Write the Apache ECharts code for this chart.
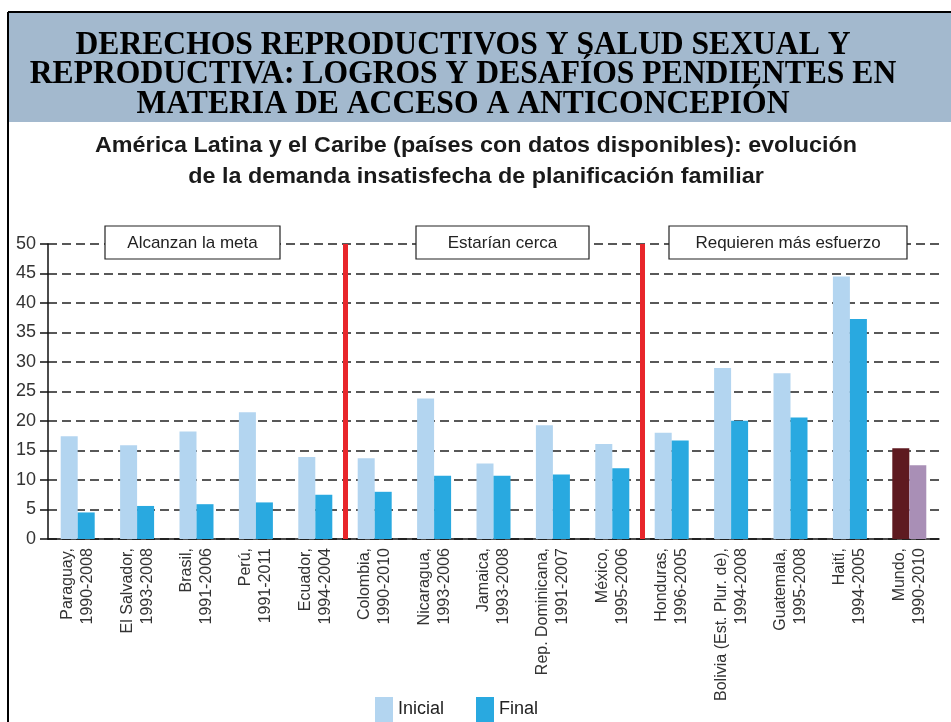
<!DOCTYPE html>
<html>
<head>
<meta charset="utf-8">
<script src="https://cdn.jsdelivr.net/npm/echarts@6/dist/echarts.min.js"></script>
<style>
  html, body { margin: 0; padding: 0; background: #fff; }
  #main { width: 951px; height: 722px; }
</style>
</head>
<body>
<div id="main"></div>
<script>
// datos (porcentaje de demanda insatisfecha)
var paises = [
	'Paraguay,\n1990-2008', 'El Salvador,\n1993-2008', 'Brasil,\n1991-2006', 'Perú,\n1991-2011', 'Ecuador,\n1994-2004',
	'Colombia,\n1990-2010', 'Nicaragua,\n1993-2006', 'Jamaica,\n1993-2008', 'Rep. Dominicana,\n1991-2007', 'México,\n1995-2006',
	'Honduras,\n1996-2005', 'Bolivia (Est. Plur. de),\n1994-2008', 'Guatemala,\n1995-2008', 'Haití,\n1994-2005', 'Mundo,\n1990-2010'
];
var inicial = [17.4, 15.9, 18.2, 21.5, 13.9, 13.7, 23.8, 12.8, 19.3, 16.1, 18.0, 29.0, 28.1, 44.5, 15.4];
var final_ = [4.5, 5.6, 5.9, 6.2, 7.5, 8.0, 10.7, 10.7, 10.95, 12.0, 16.7, 20.05, 20.6, 37.3, 12.5];
var yTicks = [0, 5, 10, 15, 20, 25, 30, 35, 40, 45, 50];
var cortes = [5, 10]; // separacion entre grupos
var grupos = ['Alcanzan la meta', 'Estarían cerca', 'Requieren más esfuerzo'];

var colInicial = '#b3d5f0', colFinal = '#29a9e0';
var colMundoIni = '#5e1a20', colMundoFin = '#a98fb6';

function serie(vals, col, colMundo) {
	return vals.map(function (v, i) {
		if (i == vals.length - 1) return { value: v, itemStyle: { color: colMundo } };
		return v;
	});
}

var myChart = echarts.init(document.getElementById('main'));

var titulo = ['DERECHOS REPRODUCTIVOS Y SALUD SEXUAL Y',
	'REPRODUCTIVA: LOGROS Y DESAFÍOS PENDIENTES EN',
	'MATERIA DE ACCESO A ANTICONCEPIÓN'];
var subtitulo = ['América Latina y el Caribe (países con datos disponibles): evolución',
	'de la demanda insatisfecha de planificación familiar'];

var graficos = [
	{ type: 'rect', shape: { x: 9, y: 13, width: 942, height: 109 }, style: { fill: '#a3b9ce' }, z: 1 },
	{ type: 'line', shape: { x1: 8, y1: 12, x2: 951, y2: 12 }, style: { stroke: '#000', lineWidth: 2 }, z: 2 },
	{ type: 'line', shape: { x1: 8, y1: 12, x2: 8, y2: 722 }, style: { stroke: '#000', lineWidth: 2 }, z: 2 }
];
titulo.forEach(function (t, i) {
	graficos.push({
		type: 'text', x: 463, y: 45 + i * 29.5, scaleX: 0.93, z: 3,
		style: { text: t, font: 'bold 34px "Liberation Serif", "Times New Roman", serif', fill: '#000',
			textAlign: 'center', textVerticalAlign: 'middle' }
	});
});
subtitulo.forEach(function (t, i) {
	graficos.push({
		type: 'text', x: 476, y: 146 + i * 31, scaleX: 1.06, z: 3,
		style: { text: t, font: 'bold 22px "Liberation Sans", Arial, sans-serif', fill: '#1a1a1a',
			textAlign: 'center', textVerticalAlign: 'middle' }
	});
});
// cajas de los grupos
var cajas = [[105, 175], [416, 173], [669, 238]];
grupos.forEach(function (g, i) {
	graficos.push({
		type: 'rect', z: 100, zlevel: 1,
		shape: { x: cajas[i][0], y: 226, width: cajas[i][1], height: 33 },
		style: { fill: '#fff', stroke: '#222', lineWidth: 1.2 }
	});
	graficos.push({
		type: 'text', z: 101, zlevel: 1, x: cajas[i][0] + cajas[i][1] / 2, y: 243,
		style: { text: g, font: '17px "Liberation Sans", Arial, sans-serif', fill: '#222',
			textAlign: 'center', textVerticalAlign: 'middle' }
	});
});

var option = {
	animation: false,
	backgroundColor: '#fff',
	legend: {
		left: 370,
		top: 692,
		itemWidth: 18,
		itemHeight: 25,
		itemGap: 32,
		icon: 'rect',
		textStyle: { fontSize: 18, color: '#222', fontFamily: '"Liberation Sans", Arial, sans-serif' },
		data: [{ name: 'Inicial', itemStyle: { color: colInicial } }, { name: 'Final', itemStyle: { color: colFinal } }]
	},
	grid: { left: 48, right: 12, top: 244, bottom: 183 },
	xAxis: [
		{
			type: 'category',
			data: paises,
			axisLine: { lineStyle: { color: '#111', width: 1.5 } },
			axisTick: { length: 9, lineStyle: { color: '#111', width: 1.5 } },
			axisLabel: { rotate: 90, margin: 9, fontSize: 16, lineHeight: 20, color: '#333',
				fontFamily: '"Liberation Sans", Arial, sans-serif', interval: 0 }
		},
		{ type: 'value', min: 0, max: paises.length, show: false }
	],
	yAxis: {
		type: 'value',
		min: yTicks[0],
		max: yTicks[yTicks.length - 1],
		interval: 5,
		axisLine: { show: true, lineStyle: { color: '#111', width: 1.5 } },
		axisTick: { show: true, length: 8, lineStyle: { color: '#111', width: 1.5 } },
		axisLabel: { fontSize: 18, color: '#333', margin: 12, fontFamily: '"Liberation Sans", Arial, sans-serif' },
		splitLine: { lineStyle: { color: '#222', width: 1.5, type: [9, 5] } }
	},
	series: [
		{
			name: 'Inicial', type: 'bar', barWidth: 17, barGap: '0%',
			itemStyle: { color: colInicial },
			data: serie(inicial, colInicial, colMundoIni)
		},
		{
			name: 'Final', type: 'bar', barWidth: 17, barGap: '0%',
			itemStyle: { color: colFinal },
			data: serie(final_, colFinal, colMundoFin)
		},
		{
			name: 'cortes', type: 'line', xAxisIndex: 1, data: [], z: 5,
			markLine: {
				symbol: 'none', silent: true, label: { show: false },
				lineStyle: { color: '#e8262b', width: 5, type: 'solid' },
				data: cortes.map(function (c) { return { xAxis: c }; })
			}
		}
	],
	graphic: graficos
};
myChart.setOption(option);
</script>
</body>
</html>
